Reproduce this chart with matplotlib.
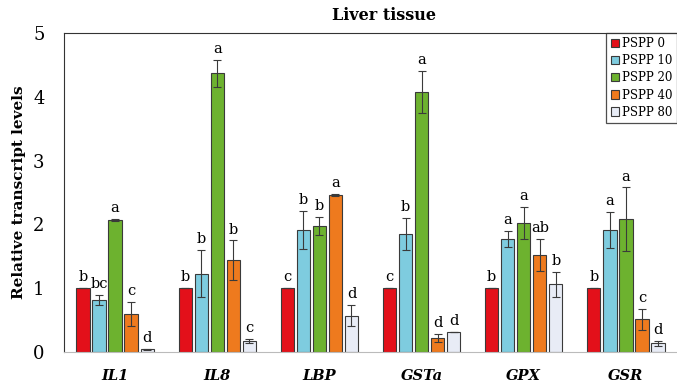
import matplotlib
matplotlib.use("Agg")
import matplotlib.pyplot as plt
import numpy as np

genes = ["IL1", "IL8", "LBP", "GSTa", "GPX", "GSR"]
groups = ["PSPP 0", "PSPP 10", "PSPP 20", "PSPP 40", "PSPP 80"]
colors = ["#E3101A", "#7ECCDF", "#6DB22F", "#EE7A1E", "#E8ECF6"]

# rows = groups, columns = genes
values = [
    [1.0, 1.0, 1.0, 1.0, 1.0, 1.0],
    [0.82, 1.23, 1.91, 1.85, 1.77, 1.91],
    [2.07, 4.37, 1.98, 4.08, 2.02, 2.08],
    [0.60, 1.44, 2.46, 0.22, 1.52, 0.51],
    [0.04, 0.17, 0.57, 0.32, 1.06, 0.14],
]
errors = [
    [0.0, 0.0, 0.0, 0.0, 0.0, 0.0],
    [0.08, 0.37, 0.30, 0.25, 0.13, 0.28],
    [0.01, 0.21, 0.14, 0.33, 0.25, 0.50],
    [0.19, 0.31, 0.02, 0.07, 0.25, 0.17],
    [0.01, 0.03, 0.17, 0.0, 0.20, 0.04],
]
letters = [
    ["b", "b", "c", "c", "b", "b"],
    ["bc", "b", "b", "b", "a", "a"],
    ["a", "a", "b", "a", "a", "a"],
    ["c", "b", "a", "d", "ab", "c"],
    ["d", "c", "d", "d", "b", "d"],
]

serif = "DejaVu Serif"
fig = plt.figure(figsize=(6.77, 3.82), dpi=100)
ax = fig.add_axes([0.0945, 0.0785, 0.9055, 0.835])

x = np.arange(len(genes))
width = 0.13
step = 0.157
for i, g in enumerate(groups):
    pos = x + (i - 2) * step
    ax.bar(pos, values[i], width, color=colors[i], edgecolor="#3a3a3a",
           linewidth=0.8, label=g, zorder=2)
    errs = np.array(errors[i])
    ax.errorbar(pos, values[i], yerr=errs, fmt="none", ecolor="#3a3a3a",
                elinewidth=0.8, capsize=3, capthick=0.8, zorder=3)
    for p, v, e, t in zip(pos, values[i], errs, letters[i]):
        ax.text(p, v + e + 0.06, t, ha="center", va="bottom",
                fontsize=10.5, family=serif)

ax.set_xlim(-0.5, 5.5)
ax.set_ylim(0, 5)
ax.set_yticks([0, 1, 2, 3, 4, 5])
ax.set_yticklabels(["0", "1", "2", "3", "4", "5"], family=serif, fontsize=13)
ax.set_xticks(x)
ax.set_xticklabels(genes, family=serif, fontsize=10.5, style="italic",
                   fontweight="bold")
ax.tick_params(length=0, axis="y", pad=14)
ax.tick_params(length=0, axis="x", pad=12)
ax.set_ylabel("Relative transcript levels", family=serif, fontsize=11,
              fontweight="bold", labelpad=5)

ax.spines["right"].set_visible(False)
ax.spines["left"].set_color("#333333")
ax.spines["top"].set_color("#333333")
ax.spines["bottom"].set_color("#bbbbbb")

leg = ax.legend(loc="upper right", frameon=True, fancybox=False,
                prop={"family": serif, "size": 8.5}, handlelength=0.7,
                handleheight=0.7, handletextpad=0.3, borderaxespad=0,
                labelspacing=0.35, borderpad=0.35)
leg.get_frame().set_edgecolor("#222222")
leg.get_frame().set_linewidth(0.9)

fig.text(0.567, 0.96, "Liver tissue", ha="center", va="center",
         family=serif, fontsize=11.5, fontweight="bold")

fig.savefig("out.png", dpi=100)
